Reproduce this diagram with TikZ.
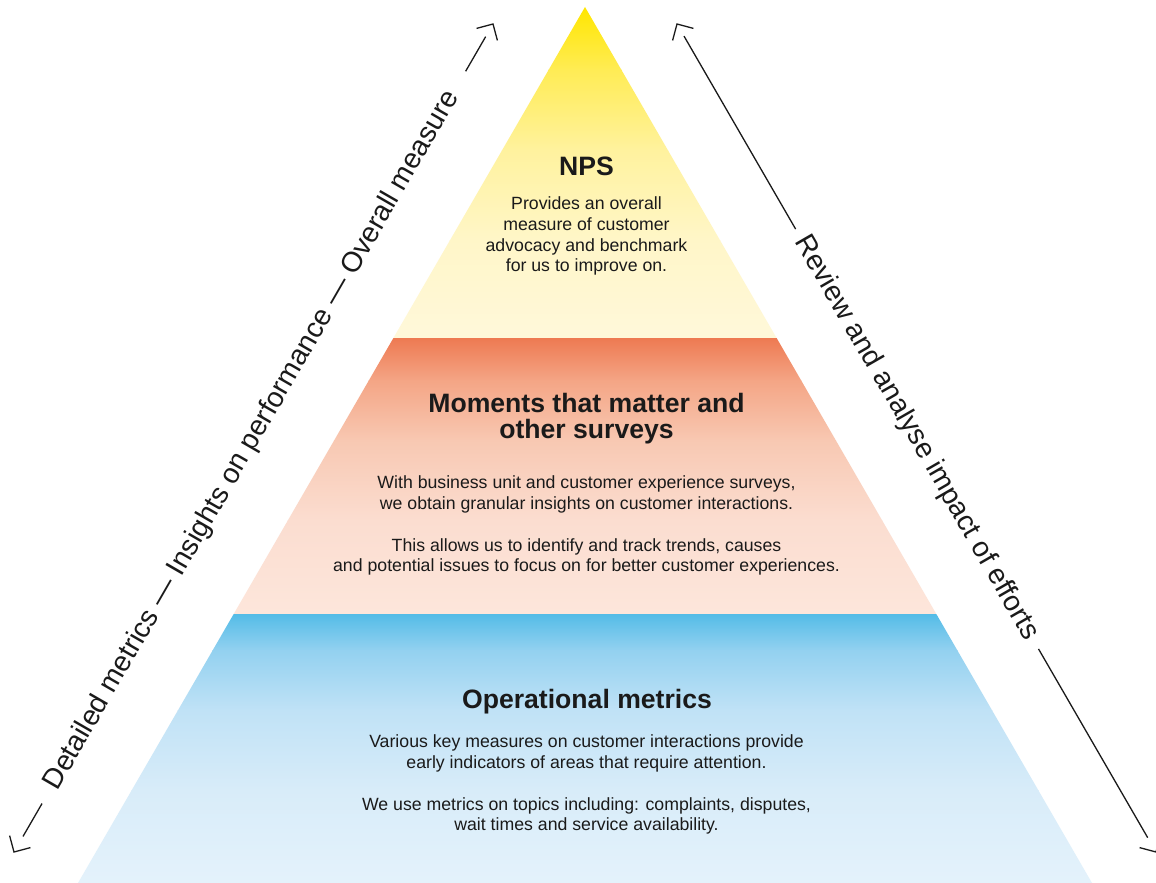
\documentclass[tikz,border=0pt]{standalone}
\usepackage{fontspec}
\setmainfont{Liberation Sans}
\usetikzlibrary{calc}
\definecolor{ink}{HTML}{1A1A1A}
\definecolor{y0}{HTML}{FFE600}
\definecolor{y1}{HTML}{FFEC55}
\definecolor{y2}{HTML}{FFF29E}
\definecolor{y3}{HTML}{FFF6C8}
\definecolor{y4}{HTML}{FFF8DA}
\definecolor{o0}{HTML}{EE7A52}
\definecolor{o1}{HTML}{F4A585}
\definecolor{o2}{HTML}{F8C8B2}
\definecolor{o3}{HTML}{FBDDD0}
\definecolor{o4}{HTML}{FDE6DB}
\definecolor{b0}{HTML}{54BCE7}
\definecolor{b1}{HTML}{93D1F0}
\definecolor{b2}{HTML}{C0E2F6}
\definecolor{b3}{HTML}{D8ECF9}
\definecolor{b4}{HTML}{E4F2FB}
\tikzset{
  bandtitle/.style={font=\bfseries\fontsize{26.6}{26.3}\selectfont, text=ink, align=center, inner sep=0pt},
  bandtext/.style={font=\fontsize{17.7}{20.7}\selectfont, text=ink, align=center, inner sep=0pt},
  sidelabel/.style={font=\fontsize{28.3}{30}\selectfont, text=ink, inner sep=0pt},
  guide/.style={draw=ink, line width=1.3pt},
}
\begin{document}
\begin{tikzpicture}[x=1pt,y=-1pt]
\useasboundingbox (0,0) rectangle (1156,883);
\fill[white] (0,0) rectangle (1156,883);
% pyramid corners
\coordinate (A)  at (585,7);
\coordinate (L1) at (393.4,338);
\coordinate (R1) at (776.6,338);
\coordinate (L2) at (233.7,614);
\coordinate (R2) at (936.3,614);
\coordinate (L3) at (78,883);
\coordinate (R3) at (1092,883);
% top band (yellow)
\begin{scope}
\clip (A) -- (R1) -- (L1) -- cycle;
\shade[top color=y0, bottom color=y1] (0,7) rectangle (1156,70.5);
\shade[top color=y1, bottom color=y2] (0,70) rectangle (1156,150.5);
\shade[top color=y2, bottom color=y3] (0,150) rectangle (1156,240.5);
\shade[top color=y3, bottom color=y4] (0,240) rectangle (1156,338);
\end{scope}
% middle band (orange)
\begin{scope}
\clip (L1) -- (R1) -- (R2) -- (L2) -- cycle;
\shade[top color=o0, bottom color=o1] (0,338) rectangle (1156,380.5);
\shade[top color=o1, bottom color=o2] (0,380) rectangle (1156,440.5);
\shade[top color=o2, bottom color=o3] (0,440) rectangle (1156,520.5);
\shade[top color=o3, bottom color=o4] (0,520) rectangle (1156,614);
\end{scope}
% bottom band (blue)
\begin{scope}
\clip (L2) -- (R2) -- (R3) -- (L3) -- cycle;
\shade[top color=b0, bottom color=b1] (0,614) rectangle (1156,650.5);
\shade[top color=b1, bottom color=b2] (0,650) rectangle (1156,710.5);
\shade[top color=b2, bottom color=b3] (0,710) rectangle (1156,790.5);
\shade[top color=b3, bottom color=b4] (0,790) rectangle (1156,883);
\end{scope}
% texts
\node[bandtitle, anchor=base] (npsT) at (586.5,175) {NPS};
\node[bandtext] (npsB) at (586.5,236.3) {Provides an overall\\measure of customer\\advocacy and benchmark\\for us to improve on.};
\node[bandtitle] (momT) at (586.5,418.6) {Moments that matter and\\other surveys};
\node[bandtext] (momB1) at (586.5,494.2) {With business unit and customer experience surveys,\\we obtain granular insights on customer interactions.};
\node[bandtext] (momB2) at (586.5,556.8) {This allows us to identify and track trends, causes\\and potential issues to focus on for better customer experiences.};
\node[bandtitle, anchor=base] (opT) at (587,708.3) {Operational metrics};
\node[bandtext] (opB1) at (586.5,753.7) {Various key measures on customer interactions provide\\early indicators of areas that require attention.};
\node[bandtext] (opB2) at (586.5,815.8) {We use metrics on topics including: complaints, disputes,\\wait times and service availability.};
% side guides
\coordinate (TL) at (493,24);
\coordinate (BL) at (14,852);
\coordinate (TR) at (677,24);
\coordinate (BR) at (1156,852);
\node[sidelabel, rotate=60] (leftLab) at ($(BL)!475.5pt!(TL)$) {Detailed metrics — Insights on performance — Overall measure};
\node[sidelabel, rotate=-60] (rightLab) at ($(TR)!478pt!(BR)$) {Review and analyse impact of efforts};
\coordinate (la) at ($(BL)!18pt!(TL)$);
\coordinate (lb) at ($(BL)!56pt!(TL)$);
\coordinate (lc) at ($(BL)!902pt!(TL)$);
\coordinate (ld) at ($(BL)!942pt!(TL)$);
\coordinate (ra) at ($(TR)!14pt!(BR)$);
\coordinate (rb) at ($(TR)!237pt!(BR)$);
\coordinate (rc) at ($(TR)!722pt!(BR)$);
\coordinate (rd) at ($(TR)!940pt!(BR)$);
\draw[guide] (la) -- (lb);
\draw[guide] (lc) -- (ld);
\draw[guide] (ra) -- (rb);
\draw[guide] (rc) -- (rd);
% chevron heads
\draw[guide] ($(TL)+(-16.4,4.4)$) -- (TL) -- ($(TL)+(4.4,16.4)$);
\draw[guide] ($(BL)+(-4.4,-16.4)$) -- (BL) -- ($(BL)+(16.4,-4.4)$);
\draw[guide] ($(TR)+(16.4,4.4)$) -- (TR) -- ($(TR)+(-4.4,16.4)$);
\draw[guide] ($(BR)+(4.4,-16.4)$) -- (BR) -- ($(BR)+(-16.4,-4.4)$);
\end{tikzpicture}
\end{document}
